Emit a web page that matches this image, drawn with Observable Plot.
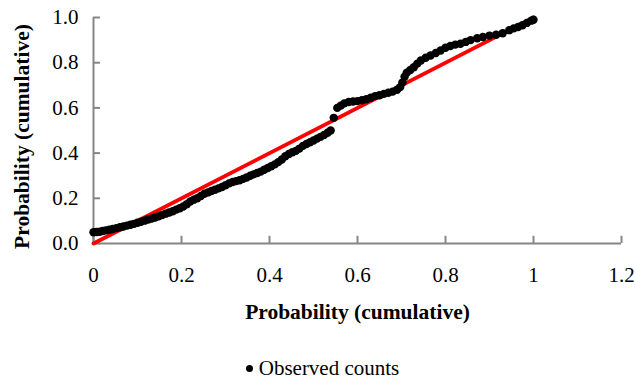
<!DOCTYPE html>
<html>
<head>
<meta charset="utf-8">
<script src="https://cdn.jsdelivr.net/npm/d3@7"></script>
<script src="https://cdn.jsdelivr.net/npm/@observablehq/plot@0.6"></script>
<style>
  html, body { margin: 0; padding: 0; background: #fff; }
  #chart { position: relative; width: 635px; height: 380px; overflow: hidden; }
  #legend {
    position: absolute; left: 0; top: 358px; width: 645px; text-align: center;
    font-family: "Liberation Serif", "Times New Roman", serif; font-size: 21px; line-height: 21px; color: #000;
  }
  #legend .swatch {
    display: inline-block; width: 7px; height: 7px; border-radius: 50%;
    background: #000; margin-right: 6px; vertical-align: middle; position: relative; top: -2px;
  }
</style>
</head>
<body>
<div id="chart"></div>
<script>
// Observed cumulative probability vs. expected cumulative probability (P-P plot)
const obsX = [
  0.000, 0.007, 0.014, 0.021, 0.028, 0.036, 0.044, 0.052, 0.060, 0.068,
  0.076, 0.084, 0.092, 0.100, 0.108, 0.116, 0.124, 0.132, 0.140, 0.148,
  0.156, 0.164, 0.172, 0.180, 0.188, 0.196, 0.204, 0.212, 0.220, 0.228,
  0.236, 0.244, 0.252, 0.260, 0.268, 0.276, 0.284, 0.292, 0.300, 0.308,
  0.316, 0.324, 0.332, 0.340, 0.348, 0.356, 0.364, 0.372, 0.380, 0.388,
  0.396, 0.404, 0.412, 0.420, 0.428, 0.436, 0.444, 0.452, 0.460, 0.468,
  0.476, 0.484, 0.492, 0.500, 0.508, 0.516, 0.524, 0.532, 0.539, 0.546,
  0.554, 0.562, 0.570, 0.580, 0.590, 0.600, 0.610, 0.620, 0.630, 0.640,
  0.650, 0.660, 0.670, 0.680, 0.690, 0.697, 0.702, 0.707, 0.712, 0.720,
  0.728, 0.736, 0.744, 0.755, 0.766, 0.778, 0.789, 0.800, 0.811, 0.822,
  0.834, 0.846, 0.857, 0.872, 0.885, 0.900, 0.915, 0.930, 0.945, 0.955,
  0.965, 0.975, 0.985, 0.995, 1.000
];
const obsY = [
  0.050, 0.051, 0.052, 0.055, 0.058, 0.061, 0.064, 0.068, 0.072, 0.075,
  0.079, 0.083, 0.087, 0.092, 0.096, 0.101, 0.106, 0.110, 0.115, 0.120,
  0.126, 0.132, 0.137, 0.143, 0.150, 0.156, 0.164, 0.174, 0.186, 0.194,
  0.200, 0.210, 0.220, 0.226, 0.232, 0.238, 0.244, 0.250, 0.258, 0.266,
  0.272, 0.276, 0.280, 0.286, 0.292, 0.300, 0.306, 0.312, 0.318, 0.326,
  0.334, 0.342, 0.350, 0.360, 0.372, 0.386, 0.396, 0.404, 0.410, 0.420,
  0.432, 0.440, 0.448, 0.456, 0.464, 0.472, 0.480, 0.490, 0.500, 0.556,
  0.600, 0.610, 0.620, 0.626, 0.628, 0.630, 0.634, 0.638, 0.645, 0.652,
  0.656, 0.662, 0.667, 0.672, 0.680, 0.692, 0.712, 0.738, 0.756, 0.768,
  0.780, 0.796, 0.810, 0.822, 0.832, 0.843, 0.854, 0.866, 0.874, 0.880,
  0.884, 0.892, 0.900, 0.908, 0.914, 0.920, 0.924, 0.930, 0.944, 0.952,
  0.958, 0.966, 0.976, 0.986, 0.990
];
// Reference line of perfect agreement
const refX = [0, 1];
const refY = [0, 1];

const xTicks = [0, 0.2, 0.4, 0.6, 0.8, 1, 1.2];
const yTicks = [0, 0.2, 0.4, 0.6, 0.8, 1.0];
const xTitle = "Probability (cumulative)";
const yTitle = "Probability (cumulative)";
const legendLabel = "Observed counts";

const points = obsX.map((x, i) => ({x, y: obsY[i]}));
const ref = refX.map((x, i) => ({x, y: refY[i]}));

const serif = '"Liberation Serif", "Times New Roman", serif';
const axisGray = "#868686";

const chart = Plot.plot({
  width: 635,
  height: 345,
  marginTop: 17,
  marginLeft: 93,
  marginRight: 14,
  marginBottom: 102,
  style: {fontFamily: serif, fontSize: "21px", color: "#000", background: "#fff"},
  x: {domain: [0, 1.2]},
  y: {domain: [0, 1]},
  marks: [
    // axis lines
    Plot.ruleY([0], {x1: 0, x2: 1.2, stroke: axisGray, strokeWidth: 2}),
    Plot.ruleX([0], {y1: 0, y2: 1, stroke: axisGray, strokeWidth: 2}),
    // inward tick marks
    Plot.ruleX(xTicks, {x: d => d, y1: 0, y2: 0.032, stroke: axisGray, strokeWidth: 2}),
    Plot.ruleY(yTicks, {y: d => d, x1: 0, x2: 0.016, stroke: axisGray, strokeWidth: 2}),
    Plot.axisX({ticks: xTicks, tickSize: 0, tickPadding: 24, fontSize: 21, label: null, tickFormat: d3.format("")}),
    Plot.axisY({ticks: yTicks, tickSize: 0, tickPadding: 15, fontSize: 21, label: null, tickFormat: d3.format(".1f")}),
    // axis titles
    Plot.text([xTitle], {text: d => d, frameAnchor: "bottom", dy: 75, fontWeight: "bold", fontSize: 21.5}),
    Plot.text([yTitle], {text: d => d, frameAnchor: "left", textAnchor: "middle", dx: -71, dy: 6, rotate: -90, fontWeight: "bold", fontSize: 21.5}),
    // reference diagonal
    Plot.line(ref, {x: "x", y: "y", stroke: "#ff0000", strokeWidth: 3.8}),
    // observed points
    Plot.dot(points, {x: "x", y: "y", r: 4.2, fill: "#000", stroke: "none"})
  ]
});

const container = document.getElementById("chart");
container.appendChild(chart);
const legend = document.createElement("div");
legend.id = "legend";
legend.innerHTML = `<span class="swatch"></span>${legendLabel}`;
container.appendChild(legend);
</script>
</body>
</html>
